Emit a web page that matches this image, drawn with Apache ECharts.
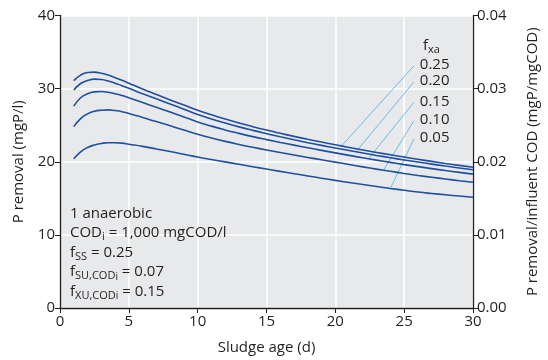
<!DOCTYPE html>
<html>
<head>
<meta charset="utf-8">
<script src="https://cdn.jsdelivr.net/npm/echarts@6/dist/echarts.min.js"></script>
<style>
  html, body { margin: 0; background: #fff; }
  #chart { width: 548px; height: 360px; }
</style>
</head>
<body>
<div id="chart"></div>
<script>
// sludge age (d)
const sludgeAge = [1, 1.5, 2, 2.5, 3, 3.5, 4, 4.5, 5, 6, 7, 8, 9, 10, 11, 12, 13, 14, 15, 16, 17, 18, 19, 20, 21, 22, 23, 24, 25, 26, 27, 28, 29, 30];
// P removal (mgP/l) for each fxa
const fxaNames = ['0.25', '0.20', '0.15', '0.10', '0.05'];
const removal025 = [31.1, 31.85, 32.2, 32.25, 32.1, 31.85, 31.5, 31.15, 30.75, 29.95, 29.2, 28.45, 27.75, 27.05, 26.42, 25.84, 25.3, 24.8, 24.33, 23.89, 23.47, 23.07, 22.69, 22.32, 21.96, 21.61, 21.27, 20.95, 20.64, 20.34, 20.05, 19.77, 19.5, 19.24];
const removal020 = [29.8, 30.7, 31.1, 31.3, 31.25, 31.05, 30.75, 30.4, 30.05, 29.3, 28.6, 27.9, 27.18, 26.45, 25.85, 25.29, 24.77, 24.29, 23.84, 23.41, 23.0, 22.61, 22.24, 21.88, 21.53, 21.19, 20.86, 20.55, 20.25, 19.96, 19.68, 19.41, 19.15, 18.9];
const removal015 = [27.6, 28.75, 29.3, 29.55, 29.6, 29.5, 29.3, 29.05, 28.75, 28.1, 27.45, 26.8, 26.13, 25.45, 24.87, 24.35, 23.88, 23.44, 23.03, 22.64, 22.27, 21.91, 21.56, 21.21, 20.87, 20.54, 20.22, 19.91, 19.61, 19.33, 19.06, 18.8, 18.55, 18.31];
const removal010 = [24.8, 25.9, 26.55, 26.9, 27.05, 27.1, 27.0, 26.85, 26.6, 26.05, 25.5, 24.92, 24.33, 23.75, 23.25, 22.79, 22.37, 21.98, 21.61, 21.26, 20.92, 20.59, 20.27, 19.95, 19.62, 19.3, 18.99, 18.69, 18.4, 18.13, 17.88, 17.64, 17.41, 17.2];
const removal005 = [20.4, 21.35, 21.95, 22.3, 22.5, 22.6, 22.6, 22.55, 22.4, 22.1, 21.75, 21.4, 21.02, 20.65, 20.31, 19.98, 19.65, 19.32, 19.0, 18.68, 18.37, 18.06, 17.75, 17.45, 17.16, 16.88, 16.61, 16.35, 16.1, 15.86, 15.66, 15.48, 15.31, 15.15];

// leader lines: point on curve -> point by the label
const leaderFrom = [[20.45, 22.15], [21.5, 21.36], [22.4, 20.4], [23.5, 18.84], [24.0, 16.35]];
const leaderTo = [[25.7, 33.1], [25.7, 30.9], [25.7, 28.1], [25.7, 25.6], [25.7, 23.1]];

const leftTicks = [0, 40, 10];
const rightTicks = [0, 0.04, 0.01];
const xTicks = [0, 30, 5];

const FONT = 'Open Sans';
const INK = '#231f20';
const chart = echarts.init(document.getElementById('chart'));

const curves = [removal025, removal020, removal015, removal010, removal005];
const series = curves.map((vals, i) => ({
  type: 'line',
  name: fxaNames[i],
  data: sludgeAge.map((x, k) => [x, vals[k]]),
  smooth: true,
  showSymbol: false,
  silent: true,
  z: 3,
  lineStyle: { color: '#1f4f9f', width: 1.6 }
}));

fxaNames.forEach((n, i) => {
  series.push({
    type: 'line',
    data: [leaderFrom[i], leaderTo[i]],
    showSymbol: false,
    silent: true,
    z: 2,
    lineStyle: { color: '#4aaee6', width: 0.8 },
    endLabel: { show: true, formatter: n, color: INK, fontSize: 15, fontFamily: FONT, distance: 6, offset: [0, -1] }
  });
});

const axisText = { color: INK, fontSize: 15, fontFamily: FONT };

chart.setOption({
  animation: false,
  grid: { left: 60, right: 68, top: 15.5, bottom: 52, show: true, backgroundColor: '#e8e9eb', borderWidth: 0 },
  xAxis: {
    type: 'value', min: xTicks[0], max: xTicks[1], interval: xTicks[2],
    name: 'Sludge age (d)', nameLocation: 'middle', nameGap: 32, nameTextStyle: axisText,
    axisLine: { lineStyle: { color: INK, width: 1.3 } },
    axisTick: { length: 5, lineStyle: { color: INK } },
    axisLabel: Object.assign({ margin: 6 }, axisText),
    splitLine: { lineStyle: { color: '#fff', width: 1.5 } }
  },
  yAxis: [{
    type: 'value', min: leftTicks[0], max: leftTicks[1], interval: leftTicks[2],
    name: 'P removal (mgP/l)', nameLocation: 'middle', nameGap: 34, nameRotate: 90, nameTextStyle: axisText,
    axisLine: { show: true, lineStyle: { color: INK, width: 1.3 } },
    axisTick: { show: true, length: 5, lineStyle: { color: INK } },
    axisLabel: Object.assign({ margin: 5 }, axisText),
    splitLine: { lineStyle: { color: '#fff', width: 1.5 } }
  }, {
    type: 'value', position: 'right', min: rightTicks[0], max: rightTicks[1], interval: rightTicks[2],
    name: 'P removal/influent COD (mgP/mgCOD)', nameLocation: 'middle', nameGap: 52, nameRotate: 90, nameTextStyle: axisText,
    axisLine: { show: true, lineStyle: { color: INK, width: 1.3 } },
    axisTick: { show: true, length: 5, lineStyle: { color: INK } },
    axisLabel: Object.assign({ margin: 4, formatter: v => v.toFixed(2) }, axisText),
    splitLine: { show: false }
  }],
  graphic: [{
    type: 'text', left: 423, top: 38, z: 100, silent: true,
    style: {
      text: '{n|f}{s|xa}',
      rich: {
        n: { fontSize: 15, lineHeight: 20, fill: INK, fontFamily: FONT },
        s: { fontSize: 11, lineHeight: 12, verticalAlign: 'bottom', fill: INK, fontFamily: FONT }
      }
    }
  }, {
    type: 'text', left: 70, top: 206, z: 100, silent: true,
    style: {
      text: [
        '{n|1 anaerobic}',
        '{n|COD}{s|i}{n| = 1,000 mgCOD/l}',
        '{n|f}{s|SS}{n| = 0.25}',
        '{n|f}{s|SU,COD}{ss|i}{n| = 0.07}',
        '{n|f}{s|XU,COD}{ss|i}{n| = 0.15}'
      ].join('\n'),
      rich: {
        n: { fontSize: 15, lineHeight: 19.5, fill: INK, fontFamily: FONT },
        s: { fontSize: 11, lineHeight: 12, verticalAlign: 'bottom', fill: INK, fontFamily: FONT },
        ss: { fontSize: 10, lineHeight: 10, verticalAlign: 'bottom', fill: INK, fontFamily: FONT }
      }
    }
  }],
  series: series
});
</script>
</body>
</html>
